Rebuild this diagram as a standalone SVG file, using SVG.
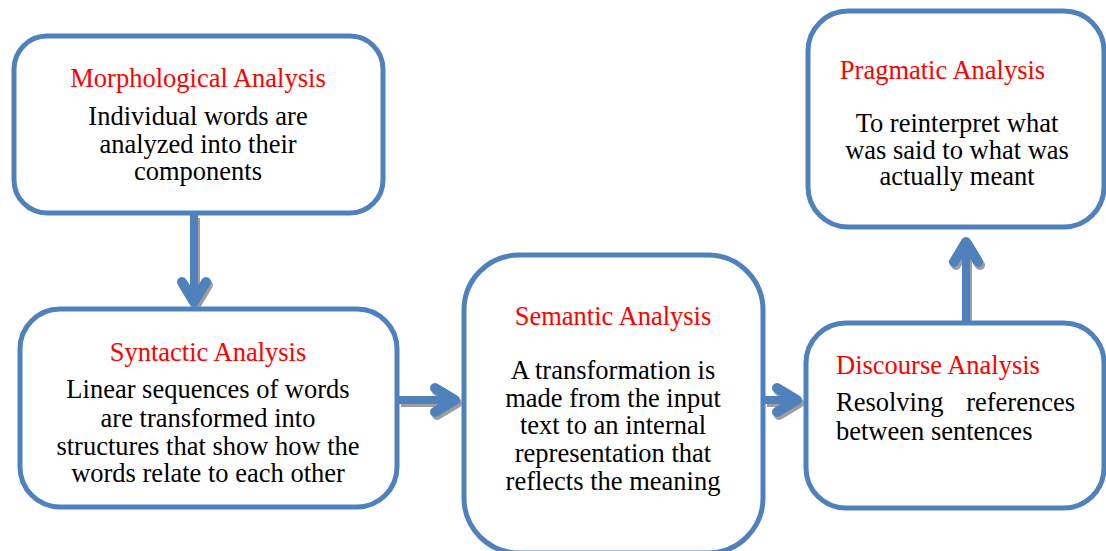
<svg xmlns="http://www.w3.org/2000/svg" width="1106" height="551" viewBox="0 0 1106 551">
<style>
.box{fill:#fff;stroke:#4F81BD;stroke-width:5}
.t{font-family:"Liberation Serif","Times New Roman",serif;font-size:26.5px;fill:#000}
.h{fill:#FF0000}
.c{text-anchor:middle}
.sh{fill:none;stroke:#9E9E9E;stroke-linecap:butt;stroke-linejoin:round}
.ar{fill:none;stroke:#4F81BD;stroke-linejoin:round}
.shaft{stroke-width:8}
.head{stroke-width:10;stroke-linecap:round}
</style>
<rect width="1106" height="551" fill="#fff"/>
<g id="connectors">
  <g transform="translate(2,3)" class="sh">
    <path class="shaft" d="M194 215V300"/><path class="head" d="M182 282L194 302L206 282"/>
    <path class="shaft" d="M399 400H453"/><path class="head" d="M435 388L455 400L435 412"/>
    <path class="shaft" d="M765 400H795"/><path class="head" d="M777 388L797 400L777 412"/>
    <path class="shaft" d="M966 321V244"/><path class="head" d="M954 262L966 242L978 262"/>
  </g>
  <g class="ar">
    <path class="shaft" d="M194 213V300"/><path class="head" d="M182 282L194 302L206 282"/>
    <path class="shaft" d="M397 400H453"/><path class="head" d="M435 388L455 400L435 412"/>
    <path class="shaft" d="M763 400H795"/><path class="head" d="M777 388L797 400L777 412"/>
    <path class="shaft" d="M966 323V244"/><path class="head" d="M954 262L966 242L978 262"/>
  </g>
</g>
<g id="morphological">
  <rect class="box" x="14" y="36" width="369" height="177" rx="33"/>
  <text class="t h c" x="198" y="87">Morphological Analysis</text>
  <text class="t c" x="198" y="125">Individual words are</text>
  <text class="t c" x="198" y="152.5">analyzed into their</text>
  <text class="t c" x="198" y="180">components</text>
</g>
<g id="syntactic">
  <rect class="box" x="20" y="309" width="377" height="198" rx="40"/>
  <text class="t h c" x="208" y="361">Syntactic Analysis</text>
  <text class="t c" x="208" y="398">Linear sequences of words</text>
  <text class="t c" x="208" y="426.5">are transformed into</text>
  <text class="t c" x="208" y="455">structures that show how the</text>
  <text class="t c" x="208" y="482">words relate to each other</text>
</g>
<g id="semantic">
  <rect class="box" x="464" y="255" width="299" height="298" rx="55"/>
  <text class="t h c" x="613" y="325">Semantic Analysis</text>
  <text class="t c" x="613" y="378.5">A transformation is</text>
  <text class="t c" x="613" y="406.5">made from the input</text>
  <text class="t c" x="613" y="433.5">text to an internal</text>
  <text class="t c" x="613" y="461.5">representation that</text>
  <text class="t c" x="613" y="489.5">reflects the meaning</text>
</g>
<g id="pragmatic">
  <rect class="box" x="808" y="11" width="296" height="216" rx="40"/>
  <text class="t h c" x="942.5" y="78.5">Pragmatic Analysis</text>
  <text class="t c" x="957" y="132">To reinterpret what</text>
  <text class="t c" x="957" y="158.5">was said to what was</text>
  <text class="t c" x="957" y="185">actually meant</text>
</g>
<g id="discourse">
  <rect class="box" x="806" y="323" width="298" height="185" rx="40"/>
  <text class="t h" x="836" y="374">Discourse Analysis</text>
  <text class="t" y="411"><tspan x="836">Resolving</tspan><tspan x="1075" text-anchor="end">references</tspan></text>
  <text class="t" x="836" y="439.5">between sentences</text>
</g>
</svg>
